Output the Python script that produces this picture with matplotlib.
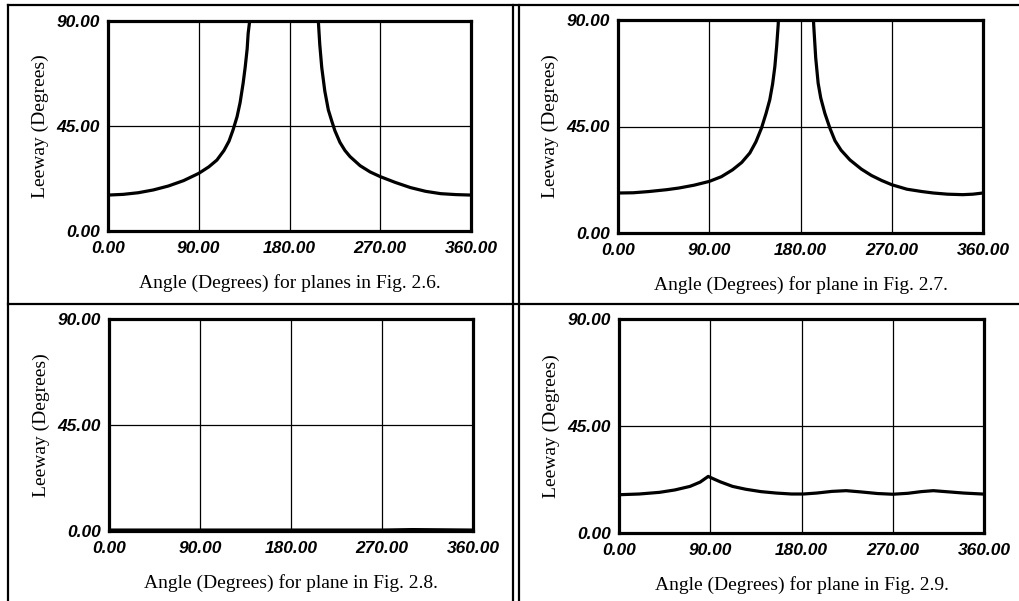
import numpy as np
import matplotlib
matplotlib.use("Agg")
import matplotlib.pyplot as plt
from matplotlib.lines import Line2D

nan = np.nan

# Panel data (angle in degrees, leeway in degrees); NaN = off-scale gap
p1_angle = [0, 15, 30, 45, 60, 75, 90, 100, 108, 115, 120, 124, 128, 131, 134, 136, 138, 139, 140.5, 141,
            175,
            208, 208.6, 210, 212, 215, 218.5, 222, 225, 230, 235, 240, 250, 260, 270, 285, 300, 315, 330, 345, 360]
p1_leeway = [15.4, 15.7, 16.4, 17.6, 19.3, 21.6, 24.7, 27.5, 30.4, 34.5, 38.5, 43.3, 49, 55, 63.3, 70, 78, 84.7, 90, 93,
             nan,
             93, 90, 80, 70, 60, 51.9, 47, 43, 38, 34.5, 31.9, 28, 25.3, 23.3, 20.8, 18.6, 17, 16, 15.6, 15.4]

p2_angle = [0, 15, 30, 48, 60, 75, 90, 102, 113, 122, 130, 136, 141.5, 146, 149.7, 152.5, 154.7, 156.5, 158, 158.5,
            175,
            192.5, 193, 195, 197.4, 200, 204, 209, 214, 220, 228.7, 240, 250, 260, 270, 285, 300, 311, 325, 340, 350, 360]
p2_leeway = [16.9, 17.0, 17.5, 18.3, 19.0, 20.2, 21.8, 23.8, 26.7, 29.8, 33.8, 38.5, 44.3, 50.5, 56.3, 63, 70.3, 79, 88, 93,
             nan,
             93, 88, 74, 63.3, 57, 50.6, 44.3, 39, 35, 30.9, 27, 24.3, 22.2, 20.4, 18.5, 17.5, 16.9, 16.4, 16.2, 16.4, 16.9]

p3_angle = [0, 90, 180, 270, 300, 360]
p3_leeway = [0.4, 0.4, 0.4, 0.4, 0.6, 0.4]

p4_angle = [0, 20, 40, 55, 70, 80, 88, 92, 100, 112, 125, 140, 155, 170, 182, 195, 210, 224, 238, 255, 270,
            285, 298, 310, 322, 340, 358]
p4_leeway = [16.1, 16.4, 17.1, 18.1, 19.6, 21.4, 23.8, 23.0, 21.5, 19.6, 18.4, 17.4, 16.8, 16.4, 16.4, 16.8, 17.5,
             17.8, 17.3, 16.6, 16.3, 16.7, 17.4, 17.8, 17.4, 16.8, 16.4]

xticks = [0, 90, 180, 270, 360]
yticks = [0, 45, 90]
xlabels = ["Angle (Degrees) for planes in Fig. 2.6.",
           "Angle (Degrees) for plane in Fig. 2.7.",
           "Angle (Degrees) for plane in Fig. 2.8.",
           "Angle (Degrees) for plane in Fig. 2.9."]
ylabel = "Leeway (Degrees)"

W, H = 1019, 601
fig = plt.figure(figsize=(W / 100, H / 100), dpi=100)

def rect(l, r, t, b):
    return [l / W, 1 - b / H, (r - l) / W, (b - t) / H]

boxes = [rect(108, 471, 21, 231), rect(618, 983, 20, 233),
         rect(109, 473, 319, 531), rect(619, 984, 319, 533)]
data = [(p1_angle, p1_leeway), (p2_angle, p2_leeway),
        (p3_angle, p3_leeway), (p4_angle, p4_leeway)]

tick_font = dict(family="Liberation Sans", weight="bold", style="italic", size=12.5)
lab_font = dict(family="Liberation Serif", size=14)

for box, (xa, ya), xl in zip(boxes, data, xlabels):
    ax = fig.add_axes(box)
    ax.plot(xa, ya, color="black", lw=2.3, solid_joinstyle="round", clip_on=True)
    ax.set_xlim(0, 360)
    ax.set_ylim(0, 90)
    ax.set_xticks(xticks)
    ax.set_yticks(yticks)
    ax.set_xticklabels([f"{v:.2f}" for v in xticks], fontdict=tick_font)
    ax.set_yticklabels([f"{v:.2f}" for v in yticks], fontdict=tick_font)
    ax.tick_params(length=0, pad=7)
    ax.tick_params(axis="y", pad=6)
    ax.grid(True, color="black", lw=0.9)
    for s in ax.spines.values():
        s.set_linewidth(2.3)
    ax.set_xlabel(xl, fontdict=lab_font, labelpad=13)
    ax.set_ylabel(ylabel, fontdict=lab_font, labelpad=5)

# frame lines
def fline(x0, y0, x1, y1, lw=1.6):
    fig.add_artist(Line2D([x0 / W, x1 / W], [1 - y0 / H, 1 - y1 / H],
                          color="black", lw=lw))

fline(8, 5, W, 5)
fline(8, 5, 8, H)
fline(8, 304, W, 304)
fline(513, 5, 513, H)
fline(519, 5, 519, H)

fig.savefig("out.png", dpi=100)
